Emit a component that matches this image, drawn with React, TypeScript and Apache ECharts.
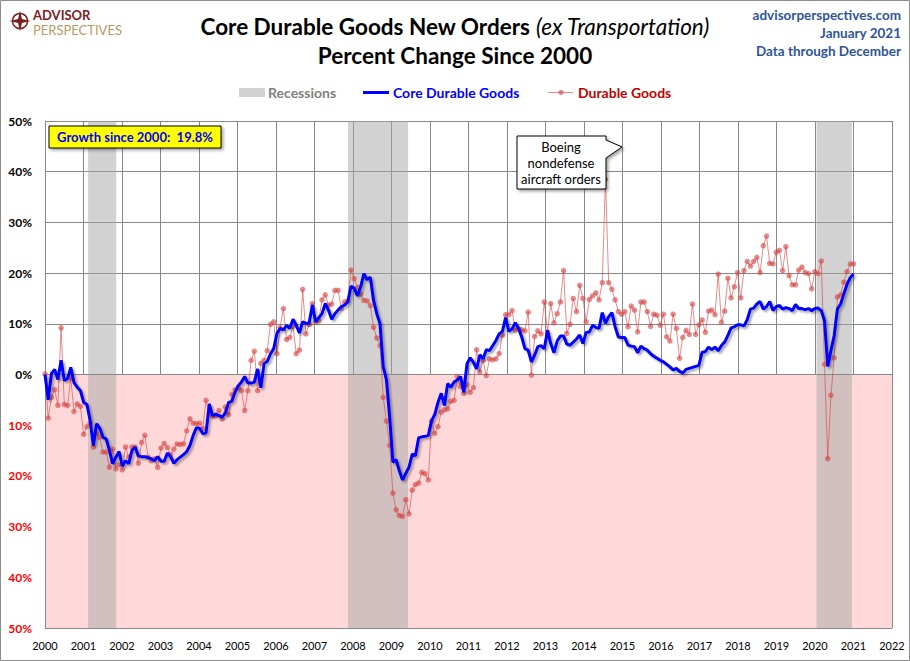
import React, { useEffect, useRef } from 'react';
import * as echarts from 'echarts';

const startYear = 2000;
const endYear = 2022;
const spanYears = 21; // Jan 2000 .. Dec 2020 drawn across 2000..2021

// Core durable goods ex transportation, % change since Jan 2000 (monthly)
const core = [
  0, -5.0, 0.2, 1.0, -1.0, 2.8, -1.2, -0.8, 1.4, -1.6, -2.5, -3.2,
  -5.5, -5.9, -9.0, -14.0, -9.7, -10.6, -12.4, -12.7, -15.0, -17.6, -16.3, -15.2,
  -18.1, -17.0, -17.6, -15.0, -14.3, -16.1, -16.2, -16.2, -16.4, -16.6, -17.0, -16.2,
  -17.1, -17.1, -15.5, -16.2, -17.5, -16.8, -16.3, -15.8, -15.2, -14.0, -12.0, -10.5,
  -10.6, -11.7, -11.5, -5.8, -8.1, -7.8, -8.1, -8.4, -7.6, -5.5, -5.3, -3.5,
  -2.2, -1.5, -0.4, -1.7, -1.7, -1.5, 1.1, -2.6, 2.1, 2.6, 4.1, 5.1,
  8.1, 9.1, 8.8, 9.7, 9.1, 10.9, 9.7, 8.2, 10.4, 10.1, 10.1, 13.7,
  10.4, 11.2, 12.0, 14.0, 12.7, 10.9, 12.0, 12.7, 13.4, 13.7, 14.3, 17.4,
  17.0, 15.5, 17.3, 19.9, 18.7, 19.2, 14.6, 12.0, 10.0, 1.5, -1.0, -8.4,
  -17.3, -16.8, -19.0, -20.8, -19.5, -18.3, -15.7, -16.0, -12.5, -12.3, -12.2, -12.0,
  -9.1, -7.9, -5.5, -3.7, -6.1, -1.8, -2.5, -1.5, -1.1, -0.4, -3.5, 2.1,
  3.3, 2.4, 1.1, 3.9, 3.1, 4.9, 4.7, 5.7, 6.7, 8.0, 8.5, 11.2,
  8.5, 9.0, 10.2, 9.1, 7.4, 5.1, 4.8, 2.5, 3.8, 5.5, 5.7, 5.1,
  8.7, 6.1, 4.3, 6.6, 7.6, 7.6, 6.0, 5.8, 6.4, 7.0, 7.8, 6.1,
  8.3, 8.4, 9.7, 9.3, 9.1, 12.2, 10.1, 11.4, 12.2, 9.4, 7.4, 7.3,
  7.3, 5.8, 5.6, 5.5, 4.3, 5.6, 5.1, 4.8, 4.1, 3.6, 3.2, 2.8,
  2.5, 2.0, 1.5, 0.9, 1.2, 0.6, 0.3, 1.0, 1.2, 1.4, 1.6, 1.8,
  4.4, 4.5, 5.4, 4.9, 5.4, 4.7, 5.7, 6.4, 7.7, 9.2, 9.4, 9.8,
  9.8, 9.6, 10.8, 12.9, 13.1, 13.9, 14.4, 12.9, 13.4, 14.4, 12.6, 13.4,
  13.6, 12.9, 13.2, 13.0, 12.6, 13.8, 13.0, 13.0, 12.8, 13.0, 12.6, 13.0,
  13.1, 12.6, 10.6, 1.6, 4.7, 7.7, 12.9, 13.9, 15.9, 17.8, 19.1, 19.8,
];

// Total durable goods, % change since Jan 2000 (monthly)
const durable = [
  0.1, -8.6, -4.5, -3.0, -6.1, 9.2, -5.9, -6.1, -0.7, -7.3, -5.8, -6.3,
  -11.8, -10.3, -9.6, -14.3, -11.6, -12.4, -15.3, -15.3, -18.3, -14.7, -18.6, -17.8,
  -18.8, -14.3, -16.3, -14.3, -14.3, -17.5, -13.4, -12.0, -16.3, -17.0, -16.6, -18.3,
  -14.5, -13.6, -14.4, -15.8, -14.7, -13.7, -13.8, -13.7, -11.1, -8.75, -9.6, -9.7,
  -9.6, -10.7, -5.1, -7.8, -8.3, -8.1, -7.1, -8.75, -6.4, -7.9, -3.9, -3.0,
  -2.6, -3.2, -7.1, -3.2, 2.8, 4.6, -3.2, 2.2, 2.8, 4.7, 9.9, 10.4,
  4.1, 9.3, 13.0, 6.9, 7.3, 9.5, 4.1, 4.8, 16.8, 8.0, 9.9, 14.0,
  10.4, 10.7, 14.7, 15.7, 13.7, 13.9, 16.6, 16.6, 13.0, 14.3, 14.5, 20.6,
  18.9, 17.2, 15.9, 14.6, 14.5, 13.6, 9.3, 7.2, 5.7, -4.5, -9.2, -14.0,
  -23.4, -26.7, -27.8, -28.0, -24.7, -27.5, -22.8, -21.7, -21.4, -19.3, -19.6, -20.8,
  -9.2, -11.6, -10.3, -7.4, -7.0, -6.8, -5.3, -5.1, -0.4, -2.4, -3.7, -2.0,
  -3.5, -2.6, 4.9, 0.5, 2.8, -0.2, 3.1, 2.9, 3.1, 4.1, 7.7, 11.8,
  11.8, 12.6, 8.7, 9.0, 8.8, 8.6, 12.3, -0.1, 7.5, 8.6, 8.0, 14.3,
  8.4, 14.0, 10.2, 12.0, 14.3, 20.5, 8.1, 9.9, 15.0, 12.4, 17.6, 15.0,
  10.4, 14.8, 15.5, 16.1, 14.7, 18.1, 38.5, 18.1, 16.8, 14.7, 12.4, 11.9,
  12.4, 9.4, 13.5, 12.7, 8.4, 14.3, 14.3, 12.4, 9.5, 11.9, 11.7, 9.7,
  11.9, 7.4, 6.6, 11.9, 9.1, 3.2, 7.3, 8.7, 7.9, 13.9, 7.9, 9.8,
  10.75, 8.3, 12.5, 12.7, 11.8, 19.8, 10.3, 12.5, 19.0, 15.1, 17.3, 20.1,
  15.1, 20.5, 22.3, 21.4, 22.3, 23.1, 20.1, 25.4, 27.3, 21.9, 21.8, 24.1,
  24.5, 20.5, 25.2, 19.5, 17.7, 17.7, 20.6, 21.2, 20.1, 19.9, 16.9, 20.3,
  19.9, 22.4, 2.0, -16.6, -4.1, 3.3, 15.3, 15.7, 18.2, 20.3, 21.8, 21.8,
];

const recessions = [
  [2001.12, 2001.85],
  [2007.87, 2009.43],
  [2020.04, 2020.96],
];

const titleMain = 'Core Durable Goods New Orders ';
const titleItalic = '(ex Transportation)';
const titleLine2 = 'Percent Change Since 2000';
const sourceLines = ['advisorperspectives.com', 'January 2021', 'Data through December'];
const growthText = 'Growth since 2000:  19.8%';
const calloutLines = ['Boeing', 'nondefense', 'aircraft orders'];
const legendNames = ['Recessions', 'Core Durable Goods', 'Durable Goods'];
const logoWords = ['ADVISOR', 'PERSPECTIVES'];

const FONT = 'Lato, "Open Sans", sans-serif';

function toXY(values: number[]) {
  return values.map((v, i) => [startYear + (i * spanYears) / (values.length - 1), v]);
}

export default function App() {
  const ref = useRef<HTMLDivElement>(null);

  useEffect(() => {
    if (!ref.current) return;
    const chart = echarts.init(ref.current, undefined, { renderer: 'svg' });

    const blue = '#0000FF';
    const red = 'rgba(214,68,68,0.62)';
    const steel = '#2F5597';

    const option: any = {
      animation: false,
      backgroundColor: '#ffffff',
      grid: { left: 45, right: 18, top: 121, bottom: 33, containLabel: false },
      xAxis: {
        type: 'value',
        min: startYear,
        max: endYear,
        interval: 1,
        z: 1,
        axisLine: { show: true, lineStyle: { color: '#888', width: 1 } },
        axisTick: { show: false },
        axisLabel: {
          formatter: (v: number) => String(v),
          color: '#000',
          fontFamily: FONT,
          fontSize: 11,
          margin: 12,
        },
        splitLine: { show: true, lineStyle: { color: '#888', width: 1 } },
      },
      yAxis: {
        type: 'value',
        min: -50,
        max: 50,
        interval: 10,
        z: 1,
        axisLine: { show: true, lineStyle: { color: '#888', width: 1 } },
        axisTick: { show: false },
        axisLabel: {
          formatter: (v: number) => Math.abs(v) + '%',
          color: (v: any) => (Number(v) < 0 ? '#FF0000' : '#000000'),
          fontFamily: FONT,
          fontWeight: 'bold',
          fontSize: 12,
          margin: 13,
        },
        splitLine: { show: true, lineStyle: { color: '#888', width: 1 } },
      },
      series: [
        {
          type: 'line',
          name: 'bands',
          z: 0,
          silent: true,
          data: [[startYear, 0]],
          symbol: 'none',
          lineStyle: { opacity: 0 },
          markArea: {
            silent: true,
            data: [
              [
                { xAxis: startYear, yAxis: -50, itemStyle: { color: '#FFD9D9' } },
                { xAxis: endYear, yAxis: 0 },
              ],
              ...recessions.map(([a, b]) => [
                { xAxis: a, yAxis: -50, itemStyle: { color: 'rgba(165,165,165,0.5)' } },
                { xAxis: b, yAxis: 50 },
              ]),
            ],
          },
        },
        {
          type: 'line',
          name: 'Durable Goods',
          z: 3,
          data: toXY(durable),
          symbol: 'circle',
          symbolSize: 5.5,
          itemStyle: { color: red },
          lineStyle: { color: red, width: 1 },
        },
        {
          type: 'line',
          name: 'Core Durable Goods',
          z: 4,
          data: toXY(core),
          symbol: 'none',
          lineStyle: {
            color: blue,
            width: 3,
            shadowColor: 'rgba(0,0,0,0.35)',
            shadowBlur: 2,
            shadowOffsetX: 2,
            shadowOffsetY: 2,
          },
        },
      ],
      graphic: [
        // outer frame
        {
          type: 'rect',
          shape: { x: 0.5, y: 0.5, width: 909, height: 660 },
          style: { fill: 'none', stroke: '#8c8c8c', lineWidth: 1 },
          silent: true,
          z: 100,
        },
        // logo
        {
          type: 'circle',
          shape: { cx: 20, cy: 21, r: 7.5 },
          style: { fill: 'none', stroke: '#7B2020', lineWidth: 1.5 },
          z: 100,
        },
        {
          type: 'polygon',
          shape: {
            points: [
              [20, 10.5], [22, 19], [30.5, 21], [22, 23], [20, 31.5], [18, 23], [9.5, 21], [18, 19],
            ],
          },
          style: { fill: '#7B2020' },
          z: 100,
        },
        {
          type: 'text',
          x: 33,
          y: 15,
          style: {
            text: logoWords[0],
            fill: '#7B2020',
            font: `bold 13px ${FONT}`,
            verticalAlign: 'middle',
          },
          z: 100,
        },
        {
          type: 'text',
          x: 33,
          y: 29.5,
          style: {
            text: logoWords[1],
            fill: '#B89B62',
            font: `13px ${FONT}`,
            verticalAlign: 'middle',
          },
          z: 100,
        },
        // title
        {
          type: 'text',
          x: 455,
          y: 26,
          style: {
            text: `{b|${titleMain}}{i|${titleItalic}}`,
            align: 'center',
            verticalAlign: 'middle',
            rich: {
              b: { font: `bold 22.5px ${FONT}`, fill: '#000' },
              i: { font: `italic 22.5px ${FONT}`, fill: '#000' },
            },
          },
          z: 100,
        },
        {
          type: 'text',
          x: 455,
          y: 55,
          style: {
            text: titleLine2,
            align: 'center',
            verticalAlign: 'middle',
            font: `bold 22.5px ${FONT}`,
            fill: '#000',
          },
          z: 100,
        },
        // source block
        ...sourceLines.map((t, i) => ({
          type: 'text',
          x: 901,
          y: 15 + i * 18,
          style: {
            text: t,
            align: 'right',
            verticalAlign: 'middle',
            font: `bold 13.5px ${FONT}`,
            fill: steel,
          },
          z: 100,
        })),
        // legend
        {
          type: 'rect',
          shape: { x: 239, y: 88, width: 26, height: 9 },
          style: { fill: '#D3D3D3' },
          z: 100,
        },
        {
          type: 'text',
          x: 268,
          y: 92.5,
          style: {
            text: legendNames[0],
            verticalAlign: 'middle',
            font: `bold 14px ${FONT}`,
            fill: '#808080',
          },
          z: 100,
        },
        {
          type: 'line',
          shape: { x1: 363, y1: 92.5, x2: 389, y2: 92.5 },
          style: { stroke: blue, lineWidth: 3 },
          z: 100,
        },
        {
          type: 'text',
          x: 393,
          y: 92.5,
          style: {
            text: legendNames[1],
            verticalAlign: 'middle',
            font: `bold 14px ${FONT}`,
            fill: blue,
          },
          z: 100,
        },
        {
          type: 'line',
          shape: { x1: 548, y1: 92.5, x2: 573, y2: 92.5 },
          style: { stroke: red, lineWidth: 1 },
          z: 100,
        },
        {
          type: 'circle',
          shape: { cx: 561, cy: 92.5, r: 2.7 },
          style: { fill: red },
          z: 100,
        },
        {
          type: 'text',
          x: 578,
          y: 92.5,
          style: {
            text: legendNames[2],
            verticalAlign: 'middle',
            font: `bold 14px ${FONT}`,
            fill: '#C00000',
          },
          z: 100,
        },
        // growth box
        {
          type: 'rect',
          shape: { x: 49, y: 126, width: 172, height: 22 },
          style: {
            fill: '#FFFF00',
            stroke: '#000',
            lineWidth: 1,
            shadowColor: 'rgba(0,0,0,0.35)',
            shadowBlur: 3,
            shadowOffsetX: 2,
            shadowOffsetY: 2,
          },
          z: 100,
        },
        {
          type: 'text',
          x: 135,
          y: 137,
          style: {
            text: growthText,
            align: 'center',
            verticalAlign: 'middle',
            font: `bold 13px ${FONT}`,
            fill: '#0000FF',
          },
          z: 101,
        },
        // Boeing callout
        {
          type: 'polygon',
          shape: {
            points: [
              [517, 136], [606, 136], [606, 140], [622, 147], [606, 158], [606, 189], [517, 189],
            ],
          },
          style: {
            fill: '#ffffff',
            stroke: '#000',
            lineWidth: 1,
            shadowColor: 'rgba(0,0,0,0.35)',
            shadowBlur: 3,
            shadowOffsetX: 2,
            shadowOffsetY: 2,
          },
          z: 100,
        },
        ...calloutLines.map((t, i) => ({
          type: 'text',
          x: 561,
          y: 147 + i * 16,
          style: {
            text: t,
            align: 'center',
            verticalAlign: 'middle',
            font: `13px ${FONT}`,
            fill: '#000',
          },
          z: 101,
        })),
      ],
    };

    chart.setOption(option);
    return () => chart.dispose();
  }, []);

  return (
    <div
      ref={ref}
      style={{ position: 'absolute', left: 0, top: 0, width: 910, height: 661 }}
    />
  );
}
